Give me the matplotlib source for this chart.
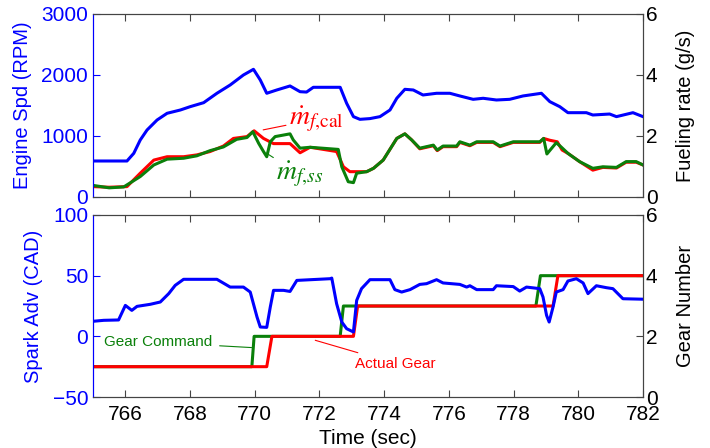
import matplotlib
matplotlib.use("Agg")
import matplotlib.pyplot as plt

plt.rcParams['font.family'] = ['Liberation Sans', 'DejaVu Sans']
plt.rcParams['mathtext.fontset'] = 'stix'

# Engine speed (RPM)
t_rpm = [765.0, 766.05, 766.26, 766.46, 766.67, 766.98, 767.29, 767.7, 768.0, 768.42,
         768.83, 769.24, 769.65, 769.96, 770.17, 770.37, 770.68, 771.09, 771.4, 771.6,
         771.81, 772.64, 772.84, 773.05, 773.25, 773.56, 773.87, 774.18, 774.39, 774.64,
         774.9, 775.2, 775.62, 776.03, 776.34, 776.75, 777.06, 777.47, 777.88, 778.29,
         778.86, 779.12, 779.43, 779.68, 780.25, 780.45, 780.97, 781.18, 781.69, 782.0]
rpm = [590, 590, 716, 934, 1098, 1262, 1372, 1426, 1480, 1546,
       1700, 1836, 2000, 2093, 1918, 1700, 1754, 1820, 1726, 1720,
       1798, 1798, 1536, 1317, 1273, 1285, 1317, 1426, 1618, 1765,
       1754, 1672, 1700, 1700, 1656, 1601, 1618, 1590, 1601, 1656,
       1700, 1563, 1480, 1382, 1382, 1344, 1360, 1317, 1382, 1317]

# Calculated fueling rate (g/s)
t_cal = [765.0, 765.5, 766.05, 766.46, 766.88, 767.29, 767.8, 768.21, 768.62, 769.03,
         769.34, 769.76, 769.98, 770.27, 770.58, 771.09, 771.4, 771.71, 772.53, 772.74,
         772.94, 773.46, 773.67, 773.97, 774.39, 774.64, 774.85, 775.1, 775.52, 775.64,
         775.82, 776.24, 776.34, 776.65, 776.86, 777.37, 777.58, 777.99, 778.81, 778.93,
         779.12, 779.35, 779.5, 779.68, 780.04, 780.45, 780.76, 781.18, 781.48, 781.79,
         782.0]
mf_cal = [0.34, 0.32, 0.34, 0.78, 1.21, 1.32, 1.32, 1.38, 1.49, 1.67,
          1.92, 1.98, 2.17, 1.92, 1.75, 1.75, 1.45, 1.63, 1.49, 0.99,
          0.83, 0.83, 0.94, 1.21, 1.92, 2.07, 1.87, 1.58, 1.68, 1.52,
          1.65, 1.65, 1.79, 1.68, 1.79, 1.79, 1.65, 1.79, 1.79, 1.92,
          1.86, 1.81, 1.54, 1.43, 1.16, 0.88, 0.97, 0.95, 1.14, 1.14,
          1.05]

# Steady-state fueling rate (g/s)
t_ss = [765.0, 765.5, 765.95, 766.46, 766.88, 767.29, 767.8, 768.21, 768.62, 769.03,
        769.44, 769.76, 769.94, 770.12, 770.27, 770.37, 770.48, 770.63, 771.09, 771.19,
        771.4, 771.71, 772.58, 772.69, 772.89, 773.05, 773.15, 773.46, 773.67, 773.97,
        774.39, 774.64, 774.85, 775.1, 775.52, 775.64, 775.82, 776.24, 776.34, 776.65,
        776.86, 777.37, 777.58, 777.99, 778.81, 778.93, 779.03, 779.32, 779.48, 779.68,
        780.04, 780.45, 780.76, 781.18, 781.48, 781.79, 782.0]
mf_ss = [0.38, 0.30, 0.33, 0.67, 1.05, 1.24, 1.27, 1.35, 1.52, 1.64,
         1.89, 1.95, 2.14, 1.76, 1.49, 1.32, 1.81, 1.98, 2.07, 1.87,
         1.60, 1.63, 1.56, 0.99, 0.50, 0.47, 0.78, 0.83, 0.94, 1.21,
         1.92, 2.07, 1.87, 1.60, 1.70, 1.54, 1.67, 1.67, 1.81, 1.70,
         1.81, 1.81, 1.67, 1.81, 1.81, 1.92, 1.41, 1.78, 1.63, 1.43,
         1.16, 0.94, 0.99, 0.97, 1.16, 1.16, 1.05]

# Spark advance (CAD)
t_spark = [765.0, 765.33, 765.79, 766.0, 766.2, 766.36, 766.77, 767.08, 767.34, 767.54,
           767.8, 768.83, 769.24, 769.65, 769.86, 770.07, 770.17, 770.37, 770.48, 770.58,
           770.89, 771.09, 771.3, 772.33, 772.38, 772.53, 772.69, 772.84, 773.05, 773.15,
           773.3, 773.56, 774.18, 774.33, 774.54, 774.8, 775.1, 775.31, 775.62, 775.82,
           776.34, 776.55, 776.65, 776.86, 777.37, 777.47, 777.99, 778.19, 778.4, 778.81,
           778.91, 779.02, 779.1, 779.22, 779.32, 779.53, 779.68, 779.94, 780.15, 780.3,
           780.56, 780.87, 781.07, 781.38, 782.0]
spark = [12.4, 13.2, 13.5, 25.5, 21.4, 24.7, 26.4, 28.3, 35.2, 42.0,
         47.0, 47.0, 40.6, 40.6, 36.5, 15.9, 7.7, 7.4, 24.2, 37.9,
         37.9, 37.0, 46.1, 47.5, 48.0, 26.9, 11.8, 6.3, 3.6, 29.6,
         39.3, 46.7, 46.7, 38.5, 36.5, 38.5, 42.8, 43.4, 46.7, 44.0,
         42.8, 40.6, 41.7, 38.5, 38.5, 41.7, 41.0, 37.3, 40.6, 39.3,
         32.4, 17.3, 11.8, 24.2, 36.5, 38.5, 45.6, 47.5, 44.0, 35.2,
         41.7, 40.1, 39.3, 31.0, 30.6]

# Gear command and actual gear
t_cmd = [765.0, 769.91, 769.98, 772.64, 772.74, 778.69, 778.83, 782.0]
gear_cmd = [1, 1, 2, 2, 3, 3, 4, 4]
t_act = [765.0, 770.37, 770.53, 773.05, 773.18, 779.22, 779.37, 782.0]
gear_act = [1, 1, 2, 2, 3, 3, 4, 4]

x_ticks = [766, 768, 770, 772, 774, 776, 778, 780, 782]

BLUE = '#0000ff'
RED = '#ff0000'
GREEN = '#0a800a'
FRAME = '#444444'
FS = 15
LFS = 14.5

fig = plt.figure(figsize=(7.1, 4.48), dpi=100)
ax1 = fig.add_axes([0.131, 0.5603, 0.7746, 0.4085])
ax2 = fig.add_axes([0.131, 0.1138, 0.7746, 0.4063])


def style(ax, twin):
    ax.set_xlim(765, 782)
    ax.set_xticks(x_ticks)
    for sp in ax.spines.values():
        sp.set_color(FRAME)
    ax.spines['left'].set_color(BLUE)
    ax.tick_params(axis='x', direction='in', top=True, bottom=True, length=5,
                   color=FRAME, labelsize=FS, pad=6)
    ax.tick_params(axis='y', direction='in', colors=BLUE, labelsize=FS, length=5)
    twin.tick_params(axis='y', direction='in', colors=FRAME, labelcolor='black',
                     labelsize=FS, length=5, pad=2)
    for sp in twin.spines.values():
        sp.set_color(FRAME)
    twin.spines['left'].set_color(BLUE)


# Top panel: engine speed and fueling rate
ax1.plot(t_rpm, rpm, color=BLUE, lw=2.2)
ax1.set_ylim(0, 3000)
ax1.set_yticks([0, 1000, 2000, 3000])
ax1.set_ylabel('Engine Spd (RPM)', color=BLUE, fontsize=LFS, labelpad=7)
tw1 = ax1.twinx()
tw1.plot(t_cal, mf_cal, color=RED, lw=2.2)
tw1.plot(t_ss, mf_ss, color=GREEN, lw=2.2)
tw1.set_ylim(0, 6)
tw1.set_yticks([0, 2, 4, 6])
tw1.set_ylabel('Fueling rate (g/s)', fontsize=LFS, labelpad=13)
style(ax1, tw1)
ax1.tick_params(axis='x', labelbottom=False)

tw1.annotate(r'$\dot{m}_{f{,}\mathrm{cal}}$', xy=(770.26, 2.2), xytext=(771.05, 2.55),
             color=RED, fontsize=20, va='center', ha='left',
             arrowprops=dict(arrowstyle='-', color=RED, lw=0.8, shrinkA=0, shrinkB=0))
tw1.annotate(r'$\dot{m}_{f{,}ss}$', xy=(770.37, 1.43), xytext=(770.66, 0.74),
             color=GREEN, fontsize=20, va='center', ha='left',
             arrowprops=dict(arrowstyle='-', color=GREEN, lw=0.8, shrinkA=0, shrinkB=0))

# Bottom panel: spark advance and gear
ax2.plot(t_spark, spark, color=BLUE, lw=2.2, zorder=3)
ax2.set_ylim(-50, 100)
ax2.set_yticks([-50, 0, 50, 100])
ax2.set_ylabel('Spark Adv (CAD)', color=BLUE, fontsize=LFS, labelpad=7)
ax2.set_xlabel('Time (sec)', fontsize=FS, labelpad=3)
tw2 = ax2.twinx()
tw2.plot(t_cmd, gear_cmd, color=GREEN, lw=2.2)
tw2.plot(t_act, gear_act, color=RED, lw=2.2)
tw2.set_ylim(0, 6)
tw2.set_yticks([0, 2, 4, 6])
tw2.set_ylabel('Gear Number', fontsize=LFS, labelpad=13)
style(ax2, tw2)
ax2.set_zorder(tw2.get_zorder() + 1)
ax2.patch.set_visible(False)

tw2.annotate('Gear Command', xy=(769.9, 1.63), xytext=(768.7, 1.8),
             color=GREEN, fontsize=11, va='center', ha='right',
             arrowprops=dict(arrowstyle='-', color=GREEN, lw=0.8, shrinkA=3, shrinkB=0))
tw2.annotate('Actual Gear', xy=(771.87, 1.87), xytext=(773.1, 1.1),
             color=RED, fontsize=11, va='center', ha='left',
             arrowprops=dict(arrowstyle='-', color=RED, lw=0.8, shrinkA=3, shrinkB=0))

fig.savefig('out.png', dpi=100)
